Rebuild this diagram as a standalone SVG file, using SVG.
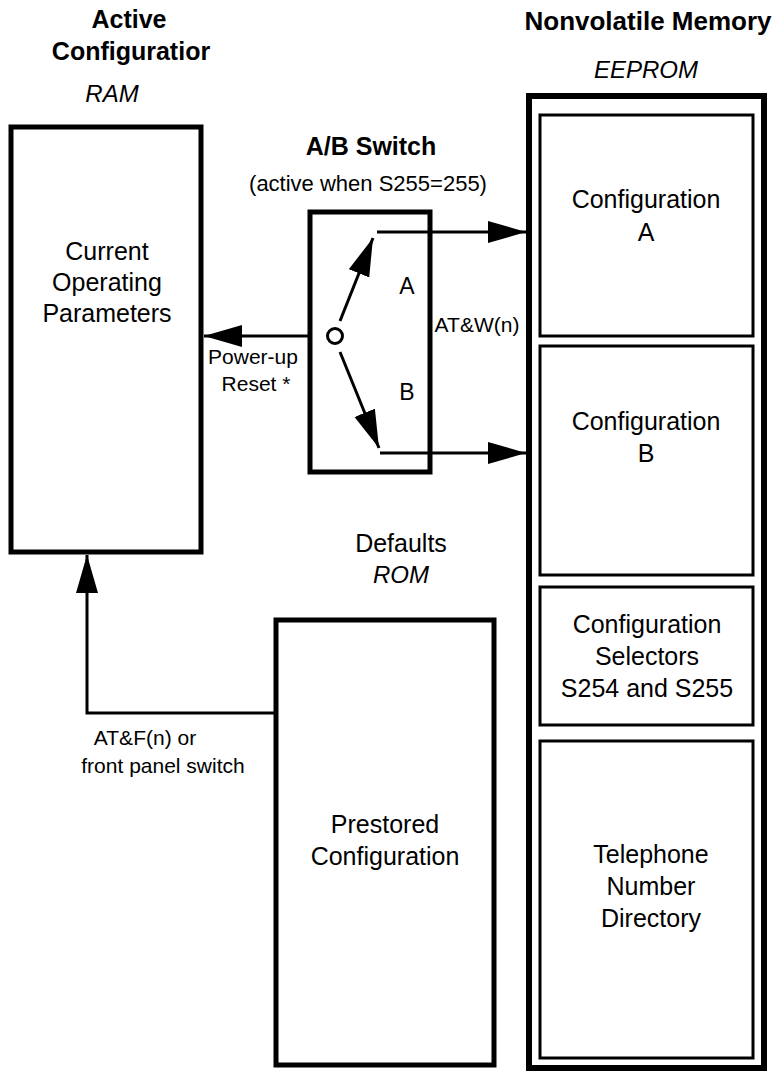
<svg xmlns="http://www.w3.org/2000/svg" width="778" height="1073" viewBox="0 0 778 1073">
<style>
text{font-family:"Liberation Sans",Arial,sans-serif;fill:#000;text-anchor:middle}
.t{font-size:25px;font-weight:bold}
.i{font-size:24px;font-style:italic}
.m{font-size:25px}
.s{font-size:21px}
.box{fill:#fff;stroke:#000;stroke-width:5}
.outer{fill:#fff;stroke:#000;stroke-width:6}
.inner{fill:#fff;stroke:#000;stroke-width:3}
.c{fill:none;stroke:#000;stroke-width:3}
</style>
<defs>
<marker id="arr" markerUnits="userSpaceOnUse" markerWidth="40" markerHeight="24" refX="38" refY="11" orient="auto">
<path d="M0,0 L38,11 L0,22 z" fill="#000"/>
</marker>
</defs>
<rect width="778" height="1073" fill="#fff"/>
<g id="title-active">
<text class="t" x="129" y="28">Active</text>
<text class="t" x="131" y="60">Configuratior</text>
<text class="i" x="112" y="102">RAM</text>
</g>
<g id="title-nonvolatile">
<text class="t" x="648" y="30" style="font-size:26px">Nonvolatile Memory</text>
<text class="i" x="646" y="78">EEPROM</text>
</g>
<g id="title-switch">
<text class="t" x="371" y="155">A/B Switch</text>
<text x="368" y="191" style="font-size:22px">(active when S255=255)</text>
</g>
<g id="title-defaults">
<text class="m" x="401" y="552">Defaults</text>
<text class="i" x="401" y="583">ROM</text>
</g>
<g id="current">
<rect class="box" x="11" y="127" width="190" height="425"/>
<text class="m" x="107" y="260">Current</text>
<text class="m" x="107" y="291">Operating</text>
<text class="m" x="107" y="322">Parameters</text>
</g>
<g id="switch">
<rect class="box" x="310" y="212" width="120" height="260"/>
<circle cx="335" cy="336" r="7.5" fill="#fff" stroke="#000" stroke-width="3"/>
<text style="font-size:23px" x="407" y="294">A</text>
<text style="font-size:23px" x="407" y="400">B</text>
</g>
<g id="prestored">
<rect class="box" x="276" y="620" width="218" height="445"/>
<text class="m" x="385" y="833">Prestored</text>
<text class="m" x="385" y="865">Configuration</text>
</g>
<g id="eeprom">
<rect class="outer" x="529" y="96" width="235" height="972"/>
</g>
<g id="configA">
<rect class="inner" x="540" y="115" width="213" height="221"/>
<text class="m" x="646" y="208">Configuration</text>
<text class="m" x="646" y="241">A</text>
</g>
<g id="configB">
<rect class="inner" x="540" y="346" width="213" height="229"/>
<text class="m" x="646" y="430">Configuration</text>
<text class="m" x="646" y="462">B</text>
</g>
<g id="selectors">
<rect class="inner" x="540" y="587" width="213" height="138"/>
<text class="m" x="647" y="633">Configuration</text>
<text class="m" x="647" y="665">Selectors</text>
<text class="m" x="647" y="697">S254 and S255</text>
</g>
<g id="directory">
<rect class="inner" x="540" y="741" width="213" height="317"/>
<text class="m" x="651" y="863">Telephone</text>
<text class="m" x="651" y="895">Number</text>
<text class="m" x="651" y="927">Directory</text>
</g>
<g id="connectors">
<line class="c" x1="310" y1="336" x2="204" y2="336" marker-end="url(#arr)"/>
<line class="c" x1="340" y1="321" x2="373" y2="238" marker-end="url(#arr)"/>
<line class="c" x1="340" y1="352" x2="379" y2="448" marker-end="url(#arr)"/>
<line class="c" x1="377" y1="232" x2="526" y2="232" marker-end="url(#arr)"/>
<line class="c" x1="380" y1="453" x2="526" y2="453" marker-end="url(#arr)"/>
<path class="c" d="M276,713 H87 V555" marker-end="url(#arr)"/>
<text class="s" x="253" y="364">Power-up</text>
<text class="s" x="256" y="391">Reset *</text>
<text class="s" x="477" y="332">AT&amp;W(n)</text>
<text class="s" x="145" y="745">AT&amp;F(n) or</text>
<text class="s" x="163" y="773">front panel switch</text>
</g>
</svg>
